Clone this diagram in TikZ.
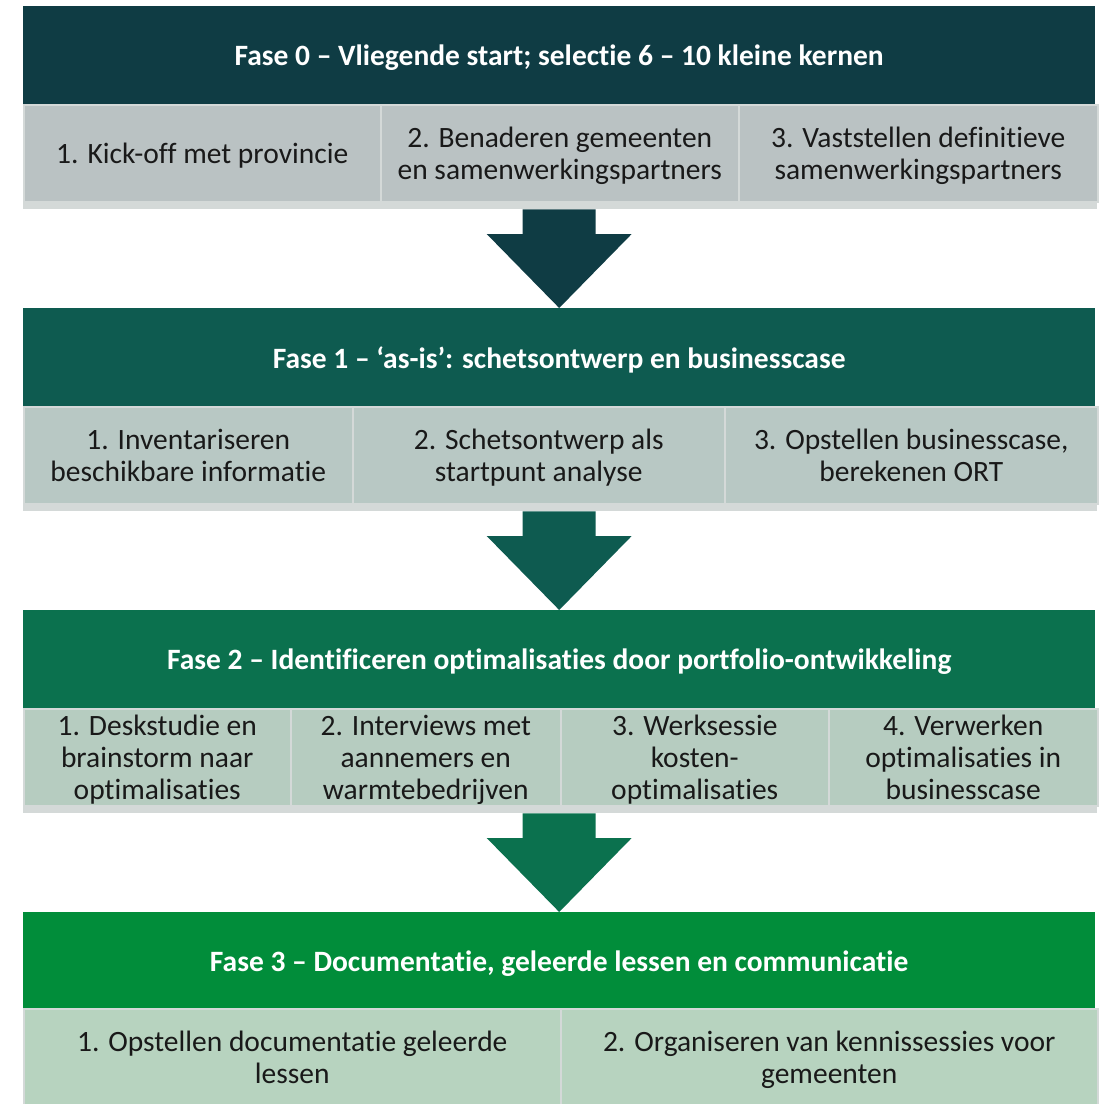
\documentclass[tikz,border=0pt]{standalone}
\usepackage{fontspec}
\setmainfont{Carlito}[Ligatures=NoCommon]
\usepackage{tikz}
\usetikzlibrary{calc}

\definecolor{fasekleur0}{HTML}{0F3C44}
\definecolor{fasekleur1}{HTML}{0E5B50}
\definecolor{fasekleur2}{HTML}{0B714E}
\definecolor{fasekleur3}{HTML}{018D3A}
\definecolor{stapkleur0}{HTML}{BAC2C3}
\definecolor{stapkleur1}{HTML}{B8C8C4}
\definecolor{stapkleur2}{HTML}{B6CCC0}
\definecolor{stapkleur3}{HTML}{B7D3BF}
\definecolor{randkleur}{HTML}{D4D9D8}

\newcommand{\fasepijl}[3]{%
  \fill[#3] ($(#1)+(-36.5,0)$) -- ($(#1)+(36.5,0)$) -- ($(#2)+(36.5,-74)$)
    -- ($(#2)+(72.5,-74)$) -- (#2) -- ($(#2)+(-72.5,-74)$)
    -- ($(#2)+(-36.5,-74)$) -- cycle;}

\begin{document}
\begin{tikzpicture}[x=1pt,y=-1pt,
  fase node/.style={rectangle,anchor=north west,inner sep=0pt,minimum width=1072pt,
    minimum height=98pt,text depth=0pt,text=white,font=\bfseries\fontsize{29.5}{32}\selectfont},
  stap node/.style={rectangle,anchor=north west,inner sep=0pt,minimum height=97pt,
    draw=randkleur,line width=1.5pt,align=center,text depth=0pt,text=black!90,
    font=\fontsize{29.5}{32}\selectfont},
  strook/.style={rectangle,anchor=north west,inner sep=0pt,minimum width=1074pt,
    minimum height=8pt,fill=randkleur}]

  \useasboundingbox (0,0) rectangle (1104,1104);
  \clip (0,0) rectangle (1104,1104);

  % fase 0
  \node[fase node,fill=fasekleur0] (fase0) at (23,6) {Fase 0 -- Vliegende start; selectie 6 -- 10 kleine kernen};
  \node[strook] (strook0) at (23,201) {};
  \node[stap node,fill=stapkleur0,minimum width=357pt] (s01) at (23,104) {1. Kick-off met provincie};
  \node[stap node,fill=stapkleur0,minimum width=358pt] (s02) at (380,104) {2. Benaderen gemeenten\\en samenwerkingspartners};
  \node[stap node,fill=stapkleur0,minimum width=359pt] (s03) at (738,104) {3. Vaststellen definitieve\\samenwerkingspartners};

  % fase 1
  \node[fase node,fill=fasekleur1] (fase1) at (23,308) {Fase 1 -- `as-is': schetsontwerp en businesscase};
  \node[strook] (strook1) at (23,503) {};
  \node[stap node,fill=stapkleur1,minimum width=329pt] (s11) at (23,406) {1. Inventariseren\\beschikbare informatie};
  \node[stap node,fill=stapkleur1,minimum width=372pt] (s12) at (352,406) {2. Schetsontwerp als\\startpunt analyse};
  \node[stap node,fill=stapkleur1,minimum width=373pt] (s13) at (724,406) {3. Opstellen businesscase,\\berekenen ORT};

  % fase 2
  \node[fase node,fill=fasekleur2] (fase2) at (23,610) {Fase 2 -- Identificeren optimalisaties door portfolio-ontwikkeling};
  \node[strook] (strook2) at (23,805) {};
  \node[stap node,fill=stapkleur2,minimum width=267pt] (s21) at (23,708) {1. Deskstudie en\\brainstorm naar\\optimalisaties};
  \node[stap node,fill=stapkleur2,minimum width=270pt] (s22) at (290,708) {2. Interviews met\\aannemers en\\warmtebedrijven};
  \node[stap node,fill=stapkleur2,minimum width=268pt] (s23) at (560,708) {3. Werksessie\\kosten-\\optimalisaties};
  \node[stap node,fill=stapkleur2,minimum width=269pt] (s24) at (828,708) {4. Verwerken\\optimalisaties in\\businesscase};

  % fase 3
  \node[fase node,fill=fasekleur3] (fase3) at (23,912) {Fase 3 -- Documentatie, geleerde lessen en communicatie};
  \node[stap node,fill=stapkleur3,minimum width=537pt] (s31) at (23,1008) {1. Opstellen documentatie geleerde\\lessen};
  \node[stap node,fill=stapkleur3,minimum width=537pt] (s32) at (560,1008) {2. Organiseren van kennissessies voor\\gemeenten};

  % pijlen tussen de fasen
  \coordinate (p0) at (strook0.south -| fase1.north);
  \coordinate (p1) at (strook1.south -| fase2.north);
  \coordinate (p2) at (strook2.south -| fase3.north);
  \fasepijl{p0}{fase1.north}{fasekleur0}
  \fasepijl{p1}{fase2.north}{fasekleur1}
  \fasepijl{p2}{fase3.north}{fasekleur2}

\end{tikzpicture}
\end{document}
